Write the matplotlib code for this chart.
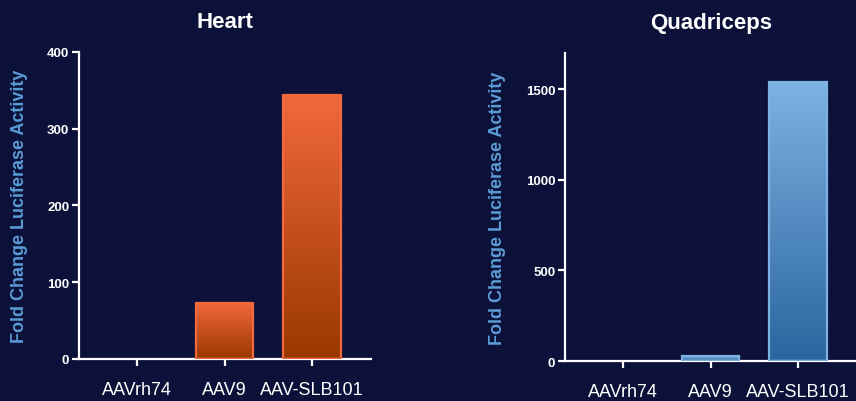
import numpy as np
import matplotlib
matplotlib.use('Agg')
import matplotlib.pyplot as plt
from matplotlib.colors import LinearSegmentedColormap

BG = '#0b1139'
WHITE = '#ffffff'
LABEL_BLUE = '#5b9bd5'

plt.rcParams['font.family'] = ['Liberation Sans', 'DejaVu Sans']

categories = ['AAVrh74', 'AAV9', 'AAV-SLB101']
heart_values = [0, 73, 344]
quad_values = [0, 27, 1541]

ORANGE_CMAP = LinearSegmentedColormap.from_list('orange', ['#993800', '#f2683c'])
BLUE_CMAP = LinearSegmentedColormap.from_list('blue', ['#2a659f', '#7db3e3'])


def gradient_bars(ax, values, cmap, edge):
    x = np.arange(len(values))
    bars = ax.bar(x, values, width=0.66, color='none', edgecolor=edge,
                  linewidth=1.6, zorder=3)
    grad = np.linspace(0, 1, 256).reshape(-1, 1)
    for b in bars:
        if b.get_height() <= 0:
            b.set_visible(False)
            continue
        x0, y0 = b.get_x(), b.get_y()
        w, h = b.get_width(), b.get_height()
        im = ax.imshow(grad, extent=[x0, x0 + w, y0, y0 + h], origin='lower',
                       cmap=cmap, aspect='auto', zorder=2)
        im.set_clip_path(b)
    return bars


def style_axes(ax, title, ylim, yticks):
    ax.set_facecolor(BG)
    ax.set_xlim(-0.66, 2.67)
    ax.set_ylim(*ylim)
    ax.set_yticks(yticks)
    ax.set_xticks(range(len(categories)))
    ax.set_xticklabels(categories, fontsize=13, color=WHITE)
    for lab in ax.get_yticklabels():
        lab.set_fontweight('bold')
        lab.set_fontsize(9.5)
        lab.set_color(WHITE)
    ax.spines['top'].set_visible(False)
    ax.spines['right'].set_visible(False)
    ax.spines['left'].set_color(WHITE)
    ax.spines['bottom'].set_color(WHITE)
    ax.spines['left'].set_linewidth(1.6)
    ax.spines['bottom'].set_linewidth(1.6)
    ax.tick_params(axis='y', colors=WHITE, length=5, width=1.6, pad=2)
    ax.tick_params(axis='x', colors=WHITE, length=5, width=1.6, pad=11)
    ax.set_ylabel('Fold Change Luciferase Activity', color=LABEL_BLUE,
                  fontsize=13, fontweight='bold', labelpad=14)
    ax.set_title(title, color=WHITE, fontsize=16, fontweight='bold', pad=18)


fig = plt.figure(figsize=(8.56, 4.02), dpi=100)
fig.patch.set_facecolor(BG)

ax1 = fig.add_axes([0.0923, 0.1045, 0.3411, 0.7637])
gradient_bars(ax1, heart_values, ORANGE_CMAP, '#f26a3a')
style_axes(ax1, 'Heart', (0, 400), [0, 100, 200, 300, 400])

ax2 = fig.add_axes([0.66, 0.0995, 0.3411, 0.7662])
gradient_bars(ax2, quad_values, BLUE_CMAP, '#7cb2e2')
style_axes(ax2, 'Quadriceps', (0, 1700), [0, 500, 1000, 1500])

fig.savefig('out.png', dpi=100, facecolor=BG)
